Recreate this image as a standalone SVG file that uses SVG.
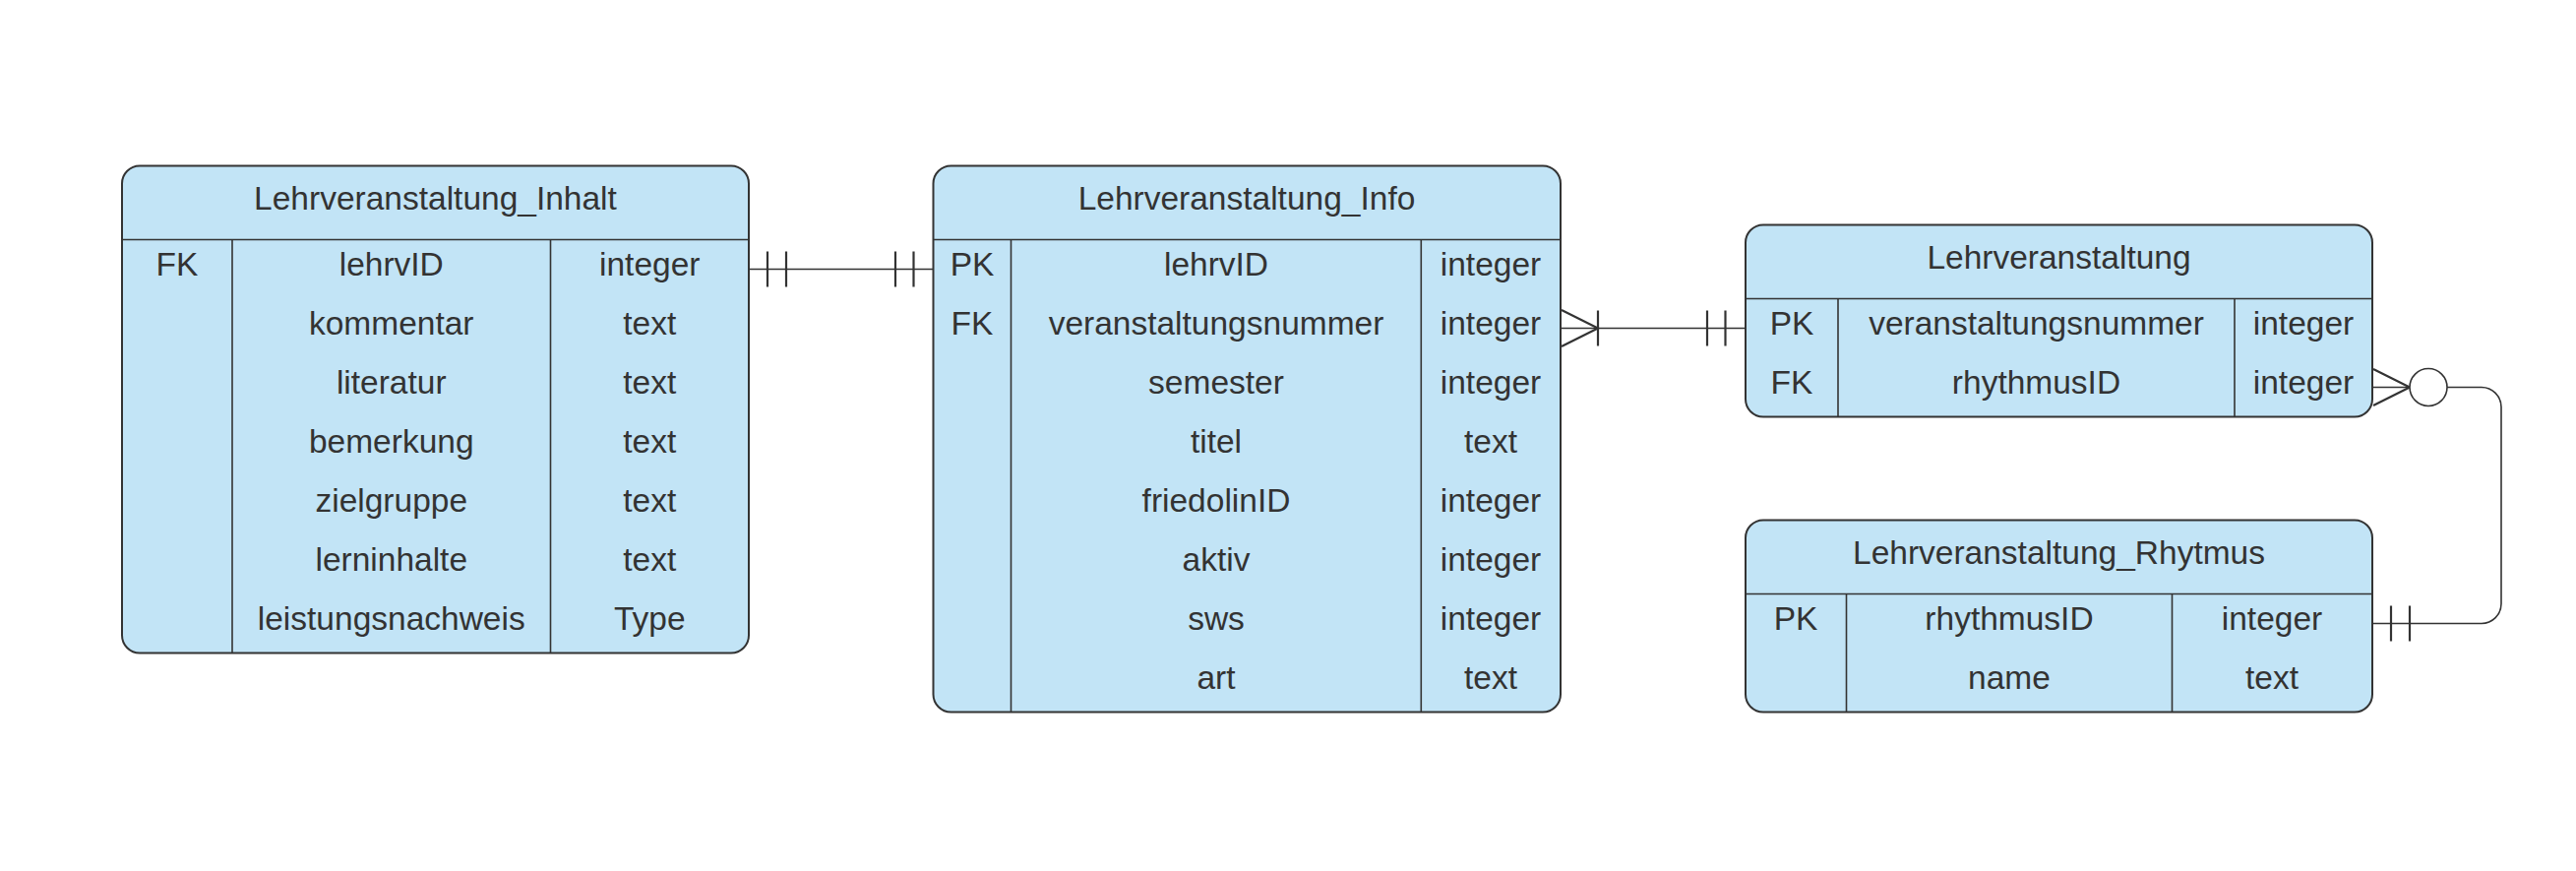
<svg xmlns="http://www.w3.org/2000/svg" width="2618" height="885" viewBox="0 0 2618 885">
<style>
.box{fill:#c2e4f6;stroke:#333;stroke-width:2}
.sep{stroke:#333;stroke-width:1.6;fill:none}
.t{font-family:"Liberation Sans",Arial,sans-serif;font-size:33.5px;fill:#333;text-anchor:middle}
.c{stroke:#333;stroke-width:1.6;fill:none}
.k{stroke:#333;stroke-width:2.2;fill:none}
</style>
<rect width="2618" height="885" fill="#fff"/>
<g id="Lehrveranstaltung_Inhalt">
<rect class="box" x="124" y="168.5" width="637" height="495" rx="18"/>
<line class="sep" x1="124" y1="243.5" x2="761" y2="243.5"/>
<line class="sep" x1="236" y1="243.5" x2="236" y2="663.5"/>
<line class="sep" x1="559.5" y1="243.5" x2="559.5" y2="663.5"/>
<text class="t" x="442.5" y="212.5">Lehrveranstaltung_Inhalt</text>
<text class="t" x="180" y="280">FK</text>
<text class="t" x="397.75" y="280">lehrvID</text>
<text class="t" x="660.25" y="280">integer</text>
<text class="t" x="397.75" y="340">kommentar</text>
<text class="t" x="660.25" y="340">text</text>
<text class="t" x="397.75" y="400">literatur</text>
<text class="t" x="660.25" y="400">text</text>
<text class="t" x="397.75" y="460">bemerkung</text>
<text class="t" x="660.25" y="460">text</text>
<text class="t" x="397.75" y="520">zielgruppe</text>
<text class="t" x="660.25" y="520">text</text>
<text class="t" x="397.75" y="580">lerninhalte</text>
<text class="t" x="660.25" y="580">text</text>
<text class="t" x="397.75" y="640">leistungsnachweis</text>
<text class="t" x="660.25" y="640">Type</text>
</g>
<g id="Lehrveranstaltung_Info">
<rect class="box" x="948.5" y="168.5" width="637.5" height="555" rx="18"/>
<line class="sep" x1="948.5" y1="243.5" x2="1586" y2="243.5"/>
<line class="sep" x1="1027.5" y1="243.5" x2="1027.5" y2="723.5"/>
<line class="sep" x1="1444.3" y1="243.5" x2="1444.3" y2="723.5"/>
<text class="t" x="1267" y="212.5">Lehrveranstaltung_Info</text>
<text class="t" x="988" y="280">PK</text>
<text class="t" x="1236" y="280">lehrvID</text>
<text class="t" x="1515" y="280">integer</text>
<text class="t" x="988" y="340">FK</text>
<text class="t" x="1236" y="340">veranstaltungsnummer</text>
<text class="t" x="1515" y="340">integer</text>
<text class="t" x="1236" y="400">semester</text>
<text class="t" x="1515" y="400">integer</text>
<text class="t" x="1236" y="460">titel</text>
<text class="t" x="1515" y="460">text</text>
<text class="t" x="1236" y="520">friedolinID</text>
<text class="t" x="1515" y="520">integer</text>
<text class="t" x="1236" y="580">aktiv</text>
<text class="t" x="1515" y="580">integer</text>
<text class="t" x="1236" y="640">sws</text>
<text class="t" x="1515" y="640">integer</text>
<text class="t" x="1236" y="700">art</text>
<text class="t" x="1515" y="700">text</text>
</g>
<g id="Lehrveranstaltung">
<rect class="box" x="1774" y="228.5" width="637" height="195" rx="18"/>
<line class="sep" x1="1774" y1="303.5" x2="2411" y2="303.5"/>
<line class="sep" x1="1868" y1="303.5" x2="1868" y2="423.5"/>
<line class="sep" x1="2271" y1="303.5" x2="2271" y2="423.5"/>
<text class="t" x="2092.5" y="272.5">Lehrveranstaltung</text>
<text class="t" x="1821" y="340">PK</text>
<text class="t" x="2069.5" y="340">veranstaltungsnummer</text>
<text class="t" x="2341" y="340">integer</text>
<text class="t" x="1821" y="400">FK</text>
<text class="t" x="2069.5" y="400">rhythmusID</text>
<text class="t" x="2341" y="400">integer</text>
</g>
<g id="Lehrveranstaltung_Rhytmus">
<rect class="box" x="1774" y="528.5" width="637" height="195" rx="18"/>
<line class="sep" x1="1774" y1="603.5" x2="2411" y2="603.5"/>
<line class="sep" x1="1876.5" y1="603.5" x2="1876.5" y2="723.5"/>
<line class="sep" x1="2207.5" y1="603.5" x2="2207.5" y2="723.5"/>
<text class="t" x="2092.5" y="572.5">Lehrveranstaltung_Rhytmus</text>
<text class="t" x="1825" y="640">PK</text>
<text class="t" x="2042" y="640">rhythmusID</text>
<text class="t" x="2309" y="640">integer</text>
<text class="t" x="2042" y="700">name</text>
<text class="t" x="2309" y="700">text</text>
</g>
<g id="connectors">
<line class="c" x1="762" y1="273.5" x2="948" y2="273.5"/>
<line class="k" x1="780" y1="255.5" x2="780" y2="291.5"/>
<line class="k" x1="799" y1="255.5" x2="799" y2="291.5"/>
<line class="k" x1="910" y1="255.5" x2="910" y2="291.5"/>
<line class="k" x1="928.5" y1="255.5" x2="928.5" y2="291.5"/>
<line class="c" x1="1587" y1="333.5" x2="1773" y2="333.5"/>
<polyline class="k" points="1587,315 1624,333.5 1587,352"/>
<line class="k" x1="1624" y1="315.5" x2="1624" y2="351.5"/>
<line class="k" x1="1735" y1="315.5" x2="1735" y2="351.5"/>
<line class="k" x1="1753.5" y1="315.5" x2="1753.5" y2="351.5"/>
<line class="c" x1="2412" y1="393.5" x2="2449" y2="393.5"/>
<polyline class="k" points="2412,375 2449,393.5 2412,412"/>
<circle class="c" cx="2468" cy="393.5" r="19" style="fill:#fff"/>
<path class="c" d="M2487,393.5 H2522 A20,20 0 0 1 2542,413.5 V613.5 A20,20 0 0 1 2522,633.5 H2412"/>
<line class="k" x1="2430" y1="615.5" x2="2430" y2="651.5"/>
<line class="k" x1="2449" y1="615.5" x2="2449" y2="651.5"/>
</g>
</svg>
